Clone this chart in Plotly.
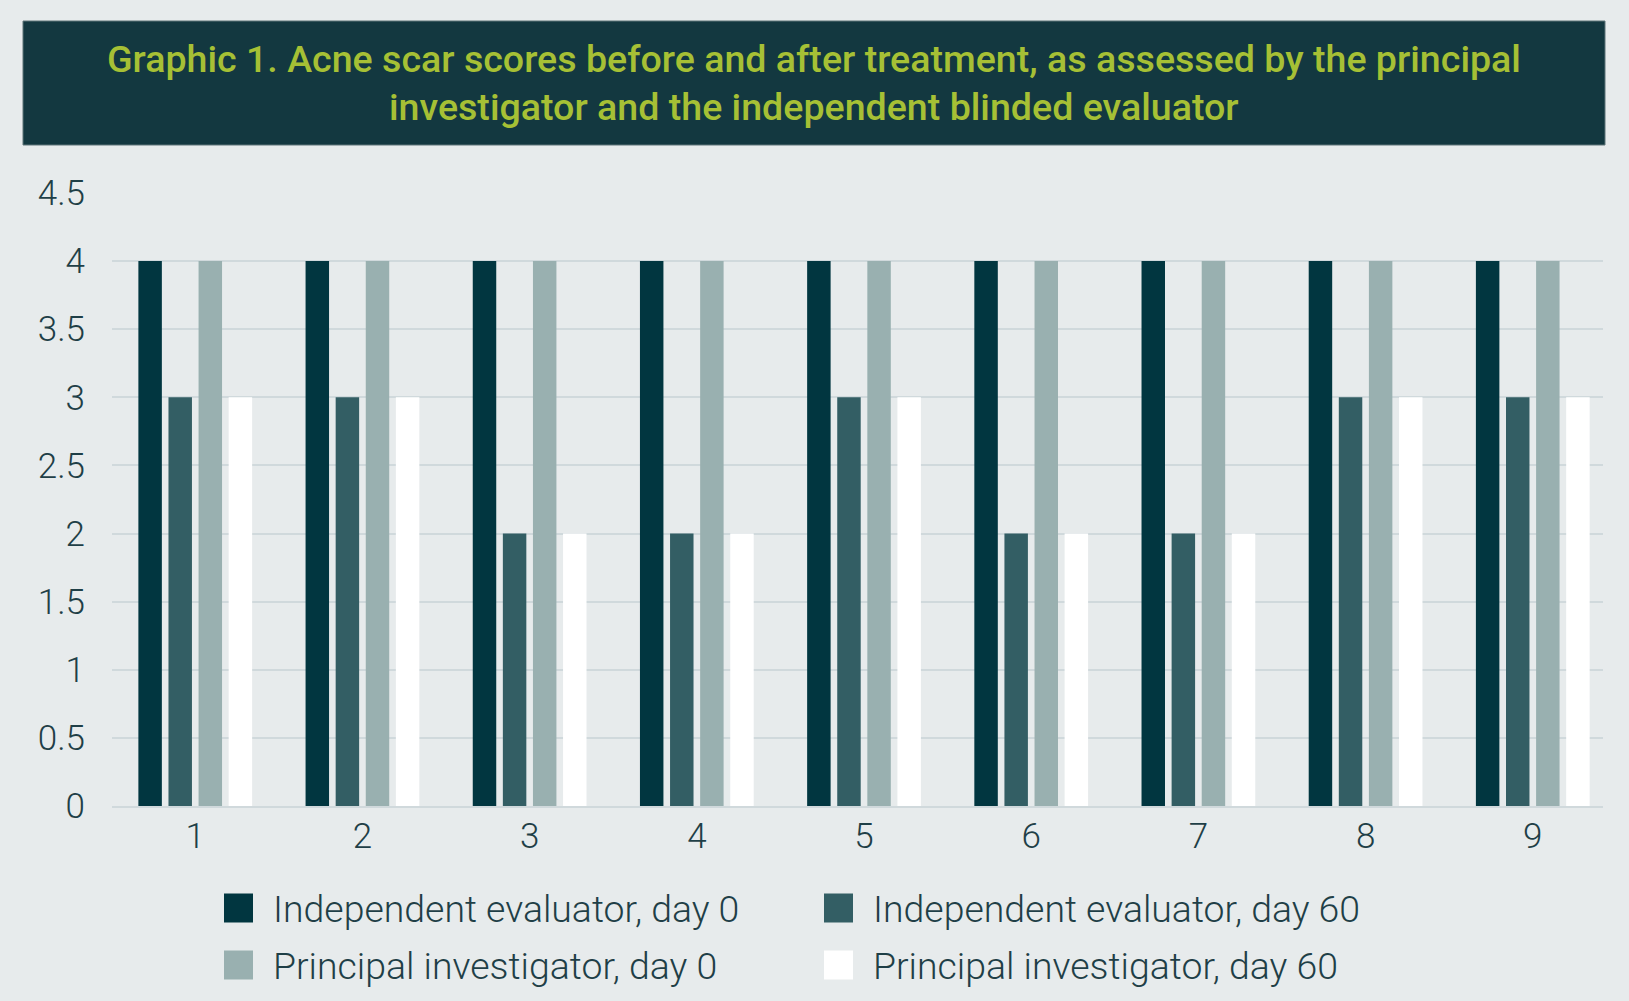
import plotly.graph_objects as go

categories = ["1", "2", "3", "4", "5", "6", "7", "8", "9"]
independent_day0 = [4, 4, 4, 4, 4, 4, 4, 4, 4]
independent_day60 = [3, 3, 2, 2, 3, 2, 2, 3, 3]
principal_day0 = [4, 4, 4, 4, 4, 4, 4, 4, 4]
principal_day60 = [3, 3, 2, 2, 3, 2, 2, 3, 3]

series_names = [
    "Independent evaluator, day 0",
    "Independent evaluator, day 60",
    "Principal investigator, day 0",
    "Principal investigator, day 60",
]
series_values = [independent_day0, independent_day60, principal_day0, principal_day60]
series_colors = ["#013640", "#335e64", "#99b0b0", "#ffffff"]

title_lines = [
    "Graphic 1. Acne scar scores before and after treatment, as assessed by the principal",
    "investigator and the independent blinded evaluator",
]
y_ticks = [0, 0.5, 1, 1.5, 2, 2.5, 3, 3.5, 4, 4.5]

W, H = 1629, 1001
L, R, T, B = 112, 1603, 193, 806
BG = "#e7ebec"
TEXT = "#1f3f47"


def px(x):
    return (x - L) / (R - L)


def py(y):
    return (B - y) / (B - T)


fig = go.Figure()
for name, vals, col in zip(series_names, series_values, series_colors):
    fig.add_trace(go.Bar(x=categories, y=vals, name=name, marker_color=col,
                         marker_line_width=0, showlegend=False))

shapes = [
    dict(type="rect", xref="paper", yref="paper", x0=px(23), x1=px(1605),
         y0=py(145), y1=py(21), fillcolor="#133840",
         line=dict(color="#5f7579", width=1), layer="above"),
]
annotations = []
for line, ypix in zip(title_lines, [59, 107]):
    annotations.append(dict(text=line, xref="paper", yref="paper", x=px(814), y=py(ypix),
                            xanchor="center", yanchor="middle", showarrow=False,
                            font=dict(family="Roboto", size=37.6, color="#a6c035", weight=500)))

# legend (2 columns x 2 rows)
leg_cols = [224, 824]
leg_rows = [908, 965]
sq = 29
for i, (name, col) in enumerate(zip(series_names, series_colors)):
    cx = leg_cols[i % 2]
    cy = leg_rows[i // 2]
    shapes.append(dict(type="rect", xref="paper", yref="paper", x0=px(cx), x1=px(cx + sq),
                       y0=py(cy + sq / 2), y1=py(cy - sq / 2), fillcolor=col, line_width=0))
    annotations.append(dict(text=name, xref="paper", yref="paper", x=px(cx + 47), y=py(cy + 1),
                            xanchor="left", yanchor="middle", showarrow=False,
                            font=dict(family="Roboto", size=37.4, color=TEXT, weight=300)))

fig.update_layout(
    width=W, height=H,
    margin=dict(l=L, r=W - R, t=T, b=H - B, pad=0),
    paper_bgcolor=BG, plot_bgcolor=BG,
    barmode="group", bargap=0.28, bargroupgap=0.22,
    shapes=shapes, annotations=annotations,
    showlegend=False,
)
fig.update_xaxes(type="category", range=[-0.498, 8.42], showgrid=False, showline=True,
                 linecolor="#d0d9dc", linewidth=2, ticks="", ticklabelstandoff=-2,
                 tickfont=dict(family="Roboto", size=35, color=TEXT, weight=300))
fig.update_yaxes(range=[0, 4.5], tickvals=y_ticks, ticktext=[f"{v:g}" for v in y_ticks],
                 showgrid=True, gridcolor="#d0d9dc", gridwidth=2, zeroline=False,
                 ticks="", ticklabelstandoff=26,
                 tickfont=dict(family="Roboto", size=35, color=TEXT, weight=300))

fig.write_html("out.html", config={"displayModeBar": False},
               post_script="document.body.style.margin='0';document.body.style.overflow='hidden';")
